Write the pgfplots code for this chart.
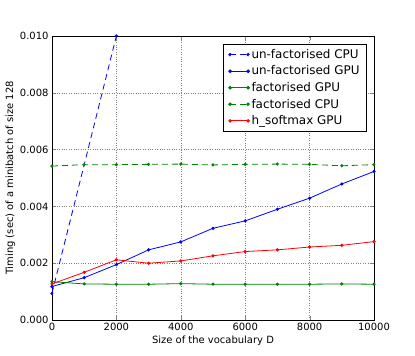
\documentclass[border=0pt]{standalone}
\usepackage{fontspec}
\setmainfont{DejaVu Sans}
\usepackage{pgfplots}
\pgfplotsset{compat=1.18}

\definecolor{mblue}{rgb}{0,0,1}
\definecolor{mgreen}{rgb}{0,0.5,0}
\definecolor{mred}{rgb}{1,0,0}

\begin{document}
\fontsize{10}{12}\selectfont
\begin{tikzpicture}
\begin{axis}[
    scale only axis,
    width=322bp, height=284bp,
    xmin=0, xmax=10000,
    ymin=0, ymax=0.010,
    xtick={0,2000,...,10000},
    ytick={0,0.002,0.004,0.006,0.008,0.010},
    scaled y ticks=false,
    scaled x ticks=false,
    /pgf/number format/assume math mode=true,
    /pgf/number format/1000 sep={},
    yticklabel style={/pgf/number format/fixed, /pgf/number format/precision=3, /pgf/number format/fixed zerofill},
    tick label style={font=\fontsize{10}{12}\selectfont},
    label style={font=\fontsize{10}{12}\selectfont},
    xlabel={Size of the vocabulary D},
    ylabel={Timing (sec) of a minibatch of size 128},
    xlabel style={yshift=2bp},
    ylabel style={yshift=-2bp},
    tick align=inside,
    major tick length=4bp,
    axis line style={black, line width=0.8pt},
    grid=major,
    grid style={dotted, gray, line width=0.5pt},
    every axis plot/.append style={line width=0.8pt, mark=*, mark size=1.2bp},
    legend style={at={(0.978,0.972)}, anchor=north east,
        draw=black, line width=0.8pt, font=\fontsize{12}{14}\selectfont,
        row sep=2bp, inner xsep=5bp, inner ysep=3bp},
    legend cell align=left,
    legend image code/.code={
        \draw[#1, mark=none] (0bp,0bp) -- (18bp,0bp);
        \draw[#1, only marks, mark size=1.4bp] plot coordinates {(0bp,0bp) (18bp,0bp)};
    },
]

\addplot[mblue, dash pattern=on 6bp off 4bp] coordinates {
    (0, 0.00094) (2000, 0.0100)
};
\addlegendentry{un-factorised CPU}

\addplot[mblue] coordinates {
    (0, 0.00118) (1000, 0.00149) (2000, 0.00195) (3000, 0.00247)
    (4000, 0.00275) (5000, 0.00323) (6000, 0.00349) (7000, 0.00390)
    (8000, 0.00429) (9000, 0.00479) (10000, 0.00523)
};
\addlegendentry{un-factorised GPU}

\addplot[mgreen] coordinates {
    (0, 0.00135) (1000, 0.00127) (2000, 0.00126) (3000, 0.00126)
    (4000, 0.00128) (5000, 0.00126) (6000, 0.00126) (7000, 0.00126)
    (8000, 0.00126) (9000, 0.00127) (10000, 0.00126)
};
\addlegendentry{factorised GPU}

\addplot[mgreen, dash pattern=on 6bp off 4bp] coordinates {
    (0, 0.00542) (1000, 0.00547) (2000, 0.00547) (3000, 0.00548)
    (4000, 0.00549) (5000, 0.00546) (6000, 0.00548) (7000, 0.00549)
    (8000, 0.00548) (9000, 0.00543) (10000, 0.00547)
};
\addlegendentry{factorised CPU}

\addplot[mred] coordinates {
    (0, 0.00127) (1000, 0.00168) (2000, 0.00212) (3000, 0.00200)
    (4000, 0.00208) (5000, 0.00226) (6000, 0.00241) (7000, 0.00247)
    (8000, 0.00257) (9000, 0.00263) (10000, 0.00276)
};
\addlegendentry{h\_softmax GPU}

\end{axis}
\path (current axis.south west) ++(-52bp,-36bp) coordinate (bl);
\path (current axis.north east) ++(41bp,36bp) coordinate (tr);
\useasboundingbox (bl) rectangle (tr);
\end{tikzpicture}
\end{document}
